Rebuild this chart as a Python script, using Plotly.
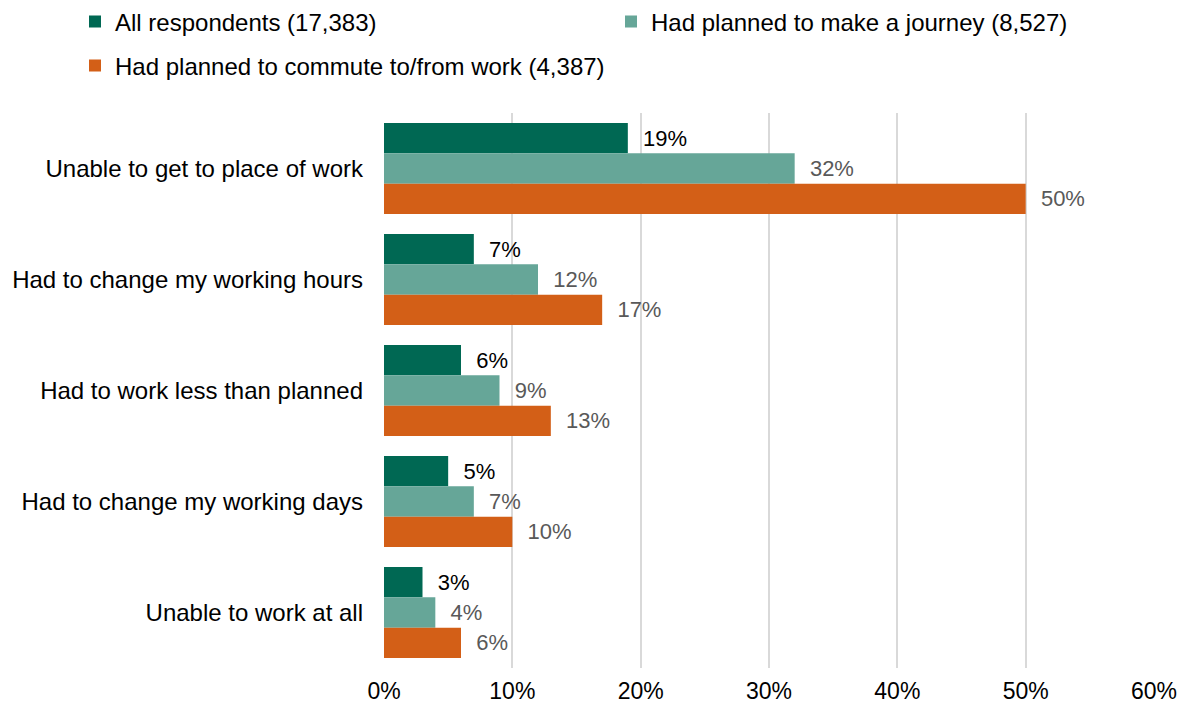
import plotly.graph_objects as go

categories = [
    "Unable to get to place of work",
    "Had to change my working hours",
    "Had to work less than planned",
    "Had to change my working days",
    "Unable to work at all",
]
series_names = [
    "All respondents (17,383)",
    "Had planned to make a journey (8,527)",
    "Had planned to commute to/from work (4,387)",
]
all_respondents = [19, 7, 6, 5, 3]
planned_journey = [32, 12, 9, 7, 4]
planned_commute = [50, 17, 13, 10, 6]
tick_values = [0, 10, 20, 30, 40, 50, 60]
tick_labels = ["0%", "10%", "20%", "30%", "40%", "50%", "60%"]

colors = ["#006853", "#66a698", "#d35f17"]
label_colors = ["#000000", "#595959", "#595959"]
legends = ["legend", "legend", "legend2"]
FONT = "Liberation Sans, Arial, sans-serif"
W, H = 1179, 704
M_L, M_R, M_T, M_B = 384, 25, 113, 36
PW, PH = W - M_L - M_R, H - M_T - M_B


def px_to_paper_x(px):
    return (px - M_L) / PW


def px_to_paper_y(py):
    return (H - M_B - py) / PH


fig = go.Figure()
for name, vals, col, lcol, lg in zip(series_names,
                                     [all_respondents, planned_journey, planned_commute],
                                     colors, label_colors, legends):
    fig.add_trace(go.Bar(
        y=categories, x=vals, name=name, orientation="h",
        marker=dict(color=col, line=dict(width=0)),
        text=[f"\u00a0\u00a0{v}%" for v in vals],
        textposition="outside", cliponaxis=False,
        textfont=dict(family=FONT, size=22, color=lcol),
        legend=lg,
    ))

legend_common = dict(orientation="h", xanchor="left", yanchor="middle",
                     xref="paper", yref="paper",
                     font=dict(size=24, color="#000"),
                     bgcolor="rgba(0,0,0,0)", itemclick=False,
                     entrywidth=491, entrywidthmode="pixels")
fig.update_layout(
    width=W, height=H,
    paper_bgcolor="white", plot_bgcolor="white",
    margin=dict(l=M_L, r=M_R, t=M_T, b=M_B, autoexpand=False),
    barmode="group", bargap=0.18, bargroupgap=0,
    font=dict(family=FONT, size=24, color="#000000"),
    legend=dict(legend_common, x=px_to_paper_x(75), y=px_to_paper_y(22)),
    legend2=dict(legend_common, x=px_to_paper_x(75), y=px_to_paper_y(66)),
    showlegend=True,
)
fig.update_xaxes(range=[0, 60], tickvals=tick_values, ticktext=tick_labels,
                 showgrid=True, gridcolor="#d9d9d9", gridwidth=2,
                 zeroline=False, showline=False, ticks="",
                 tickfont=dict(size=23, color="#000"), ticklabelstandoff=7)
fig.update_yaxes(autorange="reversed", showgrid=False, zeroline=False,
                 showline=False, ticks="", tickfont=dict(size=24, color="#000"),
                 ticklabelstandoff=20)

fig.write_html("out.html")
